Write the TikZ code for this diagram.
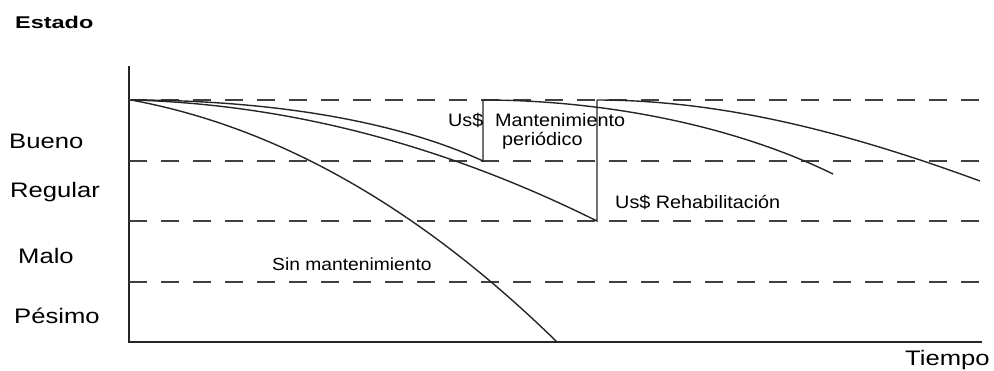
\documentclass[tikz,border=0pt]{standalone}
\usepackage{fontspec}
\setmainfont{Liberation Sans}
\newfontfamily\lblfont[FakeStretch=1.22]{Liberation Sans}
\newfontfamily\innerfont[FakeStretch=1.1]{Liberation Sans}
\newfontfamily\ttlfont[FakeStretch=1.38]{Liberation Sans}
\begin{document}
\begin{tikzpicture}[x=1pt,y=-1pt,
  axisline/.style={line width=1.6pt,draw=black!85},
  curve/.style={line width=1.4pt,draw=black!85},
  level/.style={line width=1.4pt,draw=black!75,dash pattern=on 18pt off 14pt},
  lbl/.style={anchor=base west,inner sep=0pt,font=\lblfont\fontsize{21}{21}\selectfont},
  ttl/.style={anchor=base west,inner sep=0pt,font=\ttlfont\bfseries\fontsize{17}{17}\selectfont},
  txt/.style={anchor=base west,inner sep=0pt,font=\innerfont\fontsize{18}{18}\selectfont}]
\useasboundingbox (0,0) rectangle (994,370);
% axes
\coordinate (ytop) at (129,66);
\coordinate (orig) at (129,342);
\coordinate (xend) at (982,342);
\draw[axisline] (ytop) -- (orig) -- (xend);
% level lines
\foreach \n/\y in {l1/100,l2/161,l3/221,l4/282}{
  \coordinate (\n a) at (129,\y);
  \coordinate (\n b) at (982,\y);
  \draw[level] (\n a) -- (\n b);
}
% labels
\node[ttl] (estado) at (15,28.3) {Estado};
\node[lbl] (bueno) at (9,148) {Bueno};
\node[lbl] (regular) at (10,197) {Regular};
\node[lbl] (malo) at (18,263) {Malo};
\node[lbl] (pesimo) at (14,323) {Pésimo};
\node[lbl] (tiempo) at (905,365) {Tiempo};
% curves
\coordinate (S) at (131,100);
\coordinate (Esin) at (557,342);
\coordinate (Emant) at (483,161);
\coordinate (Tmant) at (483,100);
\coordinate (Erehab) at (597,221);
\coordinate (Trehab) at (597,100);
\coordinate (Emant2) at (833,174);
\coordinate (Erehab2) at (980,181);
\draw[curve] (S) .. controls (278,127) and (420,208) .. (Esin);
\draw[curve] (S) .. controls (286,104) and (442,144) .. (Erehab) -- (Trehab);
\draw[curve] (S) .. controls (260,100) and (390,118) .. (Emant) -- (Tmant);
\draw[curve] (Tmant) .. controls (603,100) and (733,125) .. (Emant2);
\draw[curve] (Trehab) .. controls (725,100) and (852,134) .. (Erehab2);
% texts
\node[txt] (us1) at (448,126) {Us\$};
\node[txt] (mant) at (495,126) {Mantenimiento};
\node[txt] (peri) at (502,145) {periódico};
\node[txt] (rehab) at (615,208) {Us\$ Rehabilitación};
\node[txt,font=\innerfont\fontsize{17.5}{17.5}\selectfont] (sin) at (272,270) {Sin mantenimiento};
\end{tikzpicture}
\end{document}
